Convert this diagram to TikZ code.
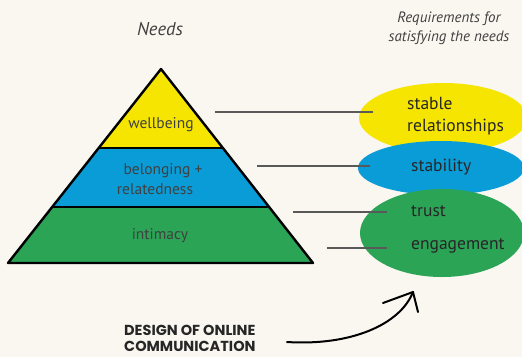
\documentclass[tikz,border=0pt]{standalone}
\usepackage{fontspec}
\setmainfont{PT Sans}
\newfontfamily\capsfont{Poppins}
\begin{document}
\begin{tikzpicture}[x=1pt,y=-1pt,
  bandtext/.style={text=black!75, font=\fontsize{15.5}{19}\selectfont, inner sep=0pt},
  reqtext/.style={text=black!85, font=\fontsize{17.5}{22}\selectfont, anchor=west, align=left, inner sep=0pt},
  headtext/.style={text=black!75, font=\itshape\fontsize{18.5}{19}\selectfont, align=center},
  link/.style={draw=black!65, line width=1.3pt},
  outline/.style={draw=black, line width=2.4pt, line join=round}]
\definecolor{bg}{RGB}{249,247,240}
\definecolor{pyel}{RGB}{246,229,0}
\definecolor{pblu}{RGB}{10,156,215}
\definecolor{pgrn}{RGB}{44,164,86}
\fill[bg] (0,0) rectangle (522,357);
\useasboundingbox (0,0) rectangle (522,357);

% pyramid bands
\coordinate (apex) at (161,69);
\coordinate (bl) at (8,263);
\coordinate (br) at (313,263);
\coordinate (l1) at (98,148);
\coordinate (r1) at (224,148);
\coordinate (l2) at (52,207);
\coordinate (r2) at (270,207);
\fill[pyel] (apex) -- (r1) -- (l1) -- cycle;
\fill[pblu] (l1) -- (r1) -- (r2) -- (l2) -- cycle;
\fill[pgrn] (l2) -- (r2) -- (br) -- (bl) -- cycle;
\draw[outline] (apex) -- (br) -- (bl) -- cycle;
\draw[line width=1.8pt] (l1) -- (r1);
\draw[line width=1.8pt] (l2) -- (r2);

\node[bandtext] (wb) at (161,125) {wellbeing};
\node[bandtext] (bel) at (163,171) {belonging +};
\node[bandtext] (rel) at (155,189) {relatedness};
\node[bandtext] (int) at (160,236) {intimacy};

% headings
\node[headtext] (needs) at (160,29) {Needs};
\node[headtext, font=\itshape\fontsize{15}{19}\selectfont] (req) at (449,28) {Requirements for\\satisfying the needs};

% bubbles
\fill[pyel] (443,118) ellipse [x radius=84, y radius=35];
\fill[pblu] (441,168) ellipse [x radius=83, y radius=27];
\fill[pgrn] (442,233) ellipse [x radius=82, y radius=44];

\node[reqtext] (stable) at (407,116) {stable\\relationships};
\node[reqtext] (stab) at (411,167) {stability};
\node[reqtext] (trust) at (411,211) {trust};
\node[reqtext] (eng) at (411,246) {engagement};

% links
\coordinate (a1) at (215,112); \coordinate (b1) at (373,112);
\coordinate (a2) at (257,166); \coordinate (b2) at (370,166);
\coordinate (a3) at (293,212); \coordinate (b3) at (387,212);
\coordinate (a4) at (327,248); \coordinate (b4) at (387,248);
\draw[link] (a1) -- (b1);
\draw[link] (a2) -- (b2);
\draw[link] (a3) -- (b3);
\draw[link] (a4) -- (b4);

% bottom label and arrow
\node[text=black!85, font=\capsfont\bfseries\fontsize{14.5}{16}\selectfont, align=left, anchor=west, inner sep=0pt] (design) at (124,338) {DESIGN OF ONLINE\\COMMUNICATION};
\coordinate (s) at (287,342);
\coordinate (t) at (413,292);
\coordinate (w1) at (383,303);
\coordinate (w2) at (418,312);
\draw[line width=2pt, line cap=round] (s) .. controls (350,346) and (400,325) .. (t);
\draw[line width=2pt, line cap=round, line join=round] (w1) -- (t) -- (w2);
\end{tikzpicture}
\end{document}
